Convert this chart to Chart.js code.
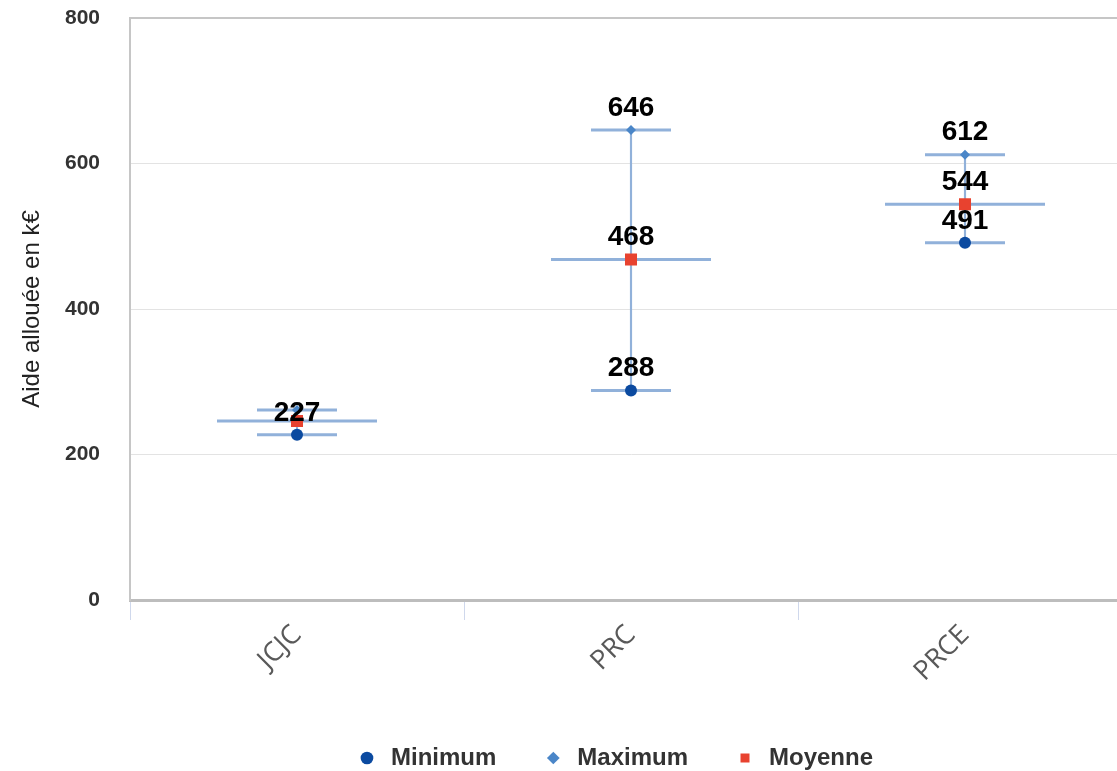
<!DOCTYPE html>
<html>
<head>
<meta charset="utf-8">
<script src="https://cdn.jsdelivr.net/npm/chart.js@4"></script>
<style>
  html, body { margin: 0; padding: 0; overflow: hidden; background: #fff; }
</style>
</head>
<body>
<canvas id="chart" width="1132" height="771"></canvas>
<script>
// valeurs (k€)
const categories = ['JCJC', 'PRC', 'PRCE'];
const minimum = [227, 288, 491];
const maximum = [261, 646, 612];
const moyenne = [246, 468, 544];
const yMin = 0, yMax = 800, yStep = 200;

const capColor = '#91b1da';

// etiquettes au dessus des marqueurs, on saute celles qui se chevauchent
const valueLabels = {
  id: 'valueLabels',
  afterDatasetsDraw(chart) {
    const ctx = chart.ctx;
    const drawn = [];
    ctx.save();
    ctx.font = 'bold 28px Arial';
    ctx.fillStyle = '#000';
    ctx.textAlign = 'center';
    ctx.textBaseline = 'middle';
    [0, 2, 1].forEach(function (di) {
      const meta = chart.getDatasetMeta(di);
      meta.data.forEach(function (pt, i) {
        const y = pt.y - 22;
        const clash = drawn.some(d => d.i === i && Math.abs(d.y - y) < 30);
        if (clash) return;
        drawn.push({ i: i, y: y });
        ctx.fillText(String(chart.data.datasets[di].data[i]), pt.x, y);
      });
    });
    ctx.restore();
  }
};

// legende centree sous la zone du graphique
const moveLegend = {
  id: 'moveLegend',
  afterLayout(chart) {
    const lg = chart.legend;
    if (!lg) return;
    const h = lg.height;
    lg.left += 48;
    lg.right += 48;
    lg.top = 701;
    lg.bottom = 701 + h;
  }
};

const range = categories.map((c, i) => [minimum[i], maximum[i]]);

new Chart(document.getElementById('chart'), {
  type: 'bar',
  data: {
    labels: categories,
    datasets: [
      {
        type: 'line', label: 'Minimum', data: minimum, showLine: false, order: 0,
        pointStyle: 'circle', pointRadius: 6, borderWidth: 0,
        backgroundColor: '#0b4aa0', borderColor: '#0b4aa0', pointBorderWidth: 0
      },
      {
        type: 'line', label: 'Maximum', data: maximum, showLine: false, order: 0,
        pointStyle: 'rectRot', pointRadius: 5, borderWidth: 0,
        backgroundColor: '#4a86c8', borderColor: '#4a86c8', pointBorderWidth: 0
      },
      {
        type: 'line', label: 'Moyenne', data: moyenne, showLine: false, order: 0,
        pointStyle: 'rect', pointRadius: 8.5, borderWidth: 0,
        backgroundColor: '#e8422f', borderColor: '#e8422f', pointBorderWidth: 0
      },
      {
        type: 'line', label: 'capMin', data: minimum, showLine: false, order: 1,
        pointStyle: 'line', pointRadius: 40, pointBorderWidth: 3,
        borderColor: capColor, backgroundColor: capColor
      },
      {
        type: 'line', label: 'capMax', data: maximum, showLine: false, order: 1,
        pointStyle: 'line', pointRadius: 40, pointBorderWidth: 3,
        borderColor: capColor, backgroundColor: capColor
      },
      {
        type: 'line', label: 'capMoy', data: moyenne, showLine: false, order: 1,
        pointStyle: 'line', pointRadius: 80, pointBorderWidth: 3,
        borderColor: capColor, backgroundColor: capColor
      },
      {
        type: 'bar', label: 'etendue', data: range, order: 2,
        barThickness: 1.5, backgroundColor: capColor, borderWidth: 0
      }
    ]
  },
  options: {
    responsive: false,
    animation: false,
    layout: { autoPadding: false, padding: { top: 18, right: 0, bottom: 0, left: 0 } },
    scales: {
      x: {
        afterFit(scale) {
          const lh = scale.chart.legend ? scale.chart.legend.height : 0;
          scale.height = scale.chart.height - 600 - lh;
          scale.paddingLeft = 0;
          scale.paddingRight = 0;
        },
        border: { display: true, color: '#bdbdbd', width: 3 },
        grid: { drawOnChartArea: false, color: '#cfd8ec', tickLength: 20, offset: true },
        ticks: {
          color: '#595959', font: { family: 'Open Sans', size: 27 },
          minRotation: 45, maxRotation: 45, padding: -1, autoSkip: false
        }
      },
      y: {
        min: yMin, max: yMax,
        afterFit(scale) {
          scale.width = 130;
          scale.paddingTop = 0;
          scale.paddingBottom = 0;
        },
        border: { display: true, color: '#c6c6c6', width: 2 },
        grid: {
          drawTicks: false,
          color: ctx => ctx.tick && ctx.tick.value === yMax ? '#c6c6c6' : '#e3e3e3',
          lineWidth: ctx => ctx.tick && ctx.tick.value === yMax ? 2 : 1
        },
        ticks: {
          stepSize: yStep, padding: 30, color: '#333',
          font: { family: 'Arial', size: 21, weight: 'bold' }
        },
        title: {
          display: true, text: 'Aide allouée en k€', color: '#222',
          font: { family: 'Arial', size: 24 }, padding: { top: 18, bottom: 0 }
        }
      }
    },
    plugins: {
      tooltip: { enabled: false },
      legend: {
        position: 'bottom',
        labels: {
          usePointStyle: true, boxWidth: 24, boxHeight: 9, padding: 45,
          color: '#333', font: { family: 'Arial', size: 24, weight: 'bold' },
          filter: item => item.datasetIndex < 3
        }
      }
    }
  },
  plugins: [valueLabels, moveLegend]
});
</script>
</body>
</html>
